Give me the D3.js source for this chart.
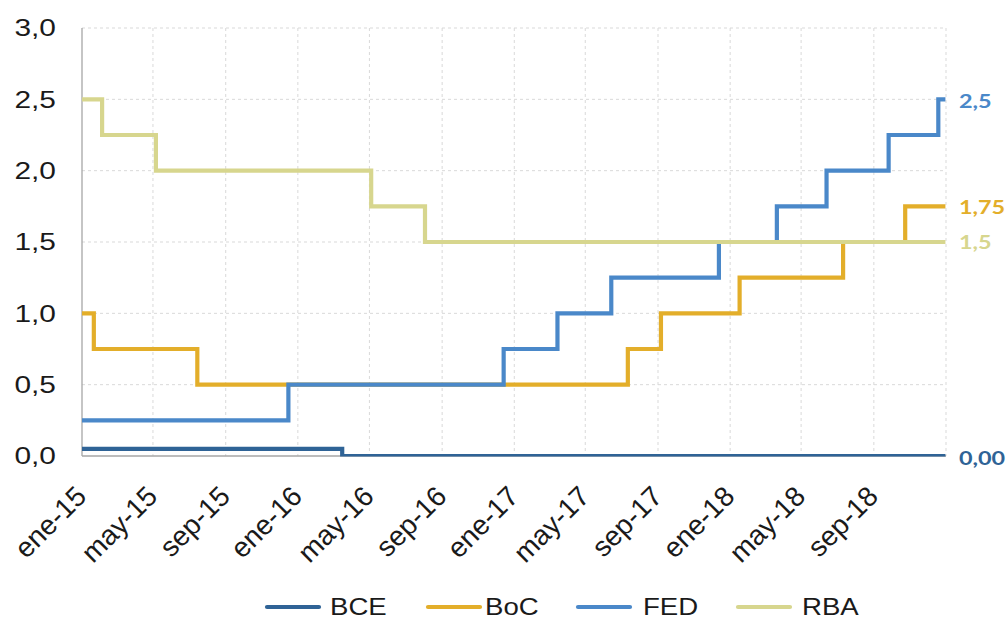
<!DOCTYPE html>
<html>
<head>
<meta charset="utf-8">
<script src="https://cdn.jsdelivr.net/npm/d3@7"></script>
<style>
  html, body { margin: 0; padding: 0; background: #fff; }
  svg { display: block; }
</style>
</head>
<body>
<svg id="chart" width="1007" height="618"></svg>
<script>
// Policy rates (%) as step series: each value holds from its date until the next one.
const seriesNames = ["BCE", "BoC", "FED", "RBA"];

const bceDates = ["2015-01-01", "2016-03-16"];
const bceRates = [0.05, 0.00];

const bocDates = ["2015-01-01", "2015-01-21", "2015-07-15", "2017-07-12", "2017-09-06",
                  "2018-01-17", "2018-07-11", "2018-10-24"];
const bocRates = [1.00, 0.75, 0.50, 0.75, 1.00, 1.25, 1.50, 1.75];

const fedDates = ["2015-01-01", "2015-12-16", "2016-12-14", "2017-03-15", "2017-06-14",
                  "2017-12-13", "2018-03-21", "2018-06-13", "2018-09-26", "2018-12-19"];
const fedRates = [0.25, 0.50, 0.75, 1.00, 1.25, 1.50, 1.75, 2.00, 2.25, 2.50];

const rbaDates = ["2015-01-01", "2015-02-04", "2015-05-06", "2016-05-04", "2016-08-03"];
const rbaRates = [2.50, 2.25, 2.00, 1.75, 1.50];

const lastDate = "2018-12-31";

// End-of-period labels shown at the right edge
const endLabels = ["0,00", "1,75", "2,5", "1,5"];

// Axis ticks
const xTickDates = ["2015-01-01", "2015-05-01", "2015-09-01", "2016-01-01", "2016-05-01",
                    "2016-09-01", "2017-01-01", "2017-05-01", "2017-09-01", "2018-01-01",
                    "2018-05-01", "2018-09-01"];
const xTickLabels = ["ene-15", "may-15", "sep-15", "ene-16", "may-16", "sep-16",
                     "ene-17", "may-17", "sep-17", "ene-18", "may-18", "sep-18"];
const xGridEnd = "2019-01-01";
const yTicks = [0, 0.5, 1.0, 1.5, 2.0, 2.5, 3.0];
const yTickLabels = ["0,0", "0,5", "1,0", "1,5", "2,0", "2,5", "3,0"];

const colors = {BCE: "#2f6396", BoC: "#e3ae2a", FED: "#4a88c9", RBA: "#d7d68e"};

// Horizontal text is drawn slightly widened
const stretch = 1.3;

const parse = d3.timeParse("%Y-%m-%d");

function buildSeries(name, dates, rates) {
  const pts = dates.map((d, i) => ({date: parse(d), value: rates[i]}));
  pts.push({date: parse(lastDate), value: rates[rates.length - 1]});
  return {name, points: pts};
}

const series = [
  buildSeries("BCE", bceDates, bceRates),
  buildSeries("BoC", bocDates, bocRates),
  buildSeries("FED", fedDates, fedRates),
  buildSeries("RBA", rbaDates, rbaRates)
];

const svg = d3.select("#chart");

const x = d3.scaleTime()
  .domain([parse("2015-01-01"), parse(xGridEnd)])
  .range([82, 946]);
const y = d3.scaleLinear()
  .domain([0, 3])
  .range([456, 28]);

// Grid
const grid = svg.append("g");
grid.selectAll("line.h")
  .data(yTicks.filter(v => v > 0))
  .join("line")
  .attr("x1", x.range()[0]).attr("x2", x.range()[1])
  .attr("y1", d => y(d)).attr("y2", d => y(d))
  .attr("stroke", "#d9d9d9").attr("stroke-width", 1)
  .attr("stroke-dasharray", "3,3");

grid.selectAll("line.v")
  .data(xTickDates.slice(1).concat([xGridEnd]).map(parse))
  .join("line")
  .attr("x1", d => x(d)).attr("x2", d => x(d))
  .attr("y1", y(3)).attr("y2", y(0))
  .attr("stroke", "#d9d9d9").attr("stroke-width", 1)
  .attr("stroke-dasharray", "3,3");

// Axis lines
svg.append("line")
  .attr("x1", x.range()[0]).attr("x2", x.range()[0])
  .attr("y1", y(3)).attr("y2", y(0))
  .attr("stroke", "#a6a6a6").attr("stroke-width", 1.3);
svg.append("line")
  .attr("x1", x.range()[0]).attr("x2", x.range()[1])
  .attr("y1", y(0)).attr("y2", y(0))
  .attr("stroke", "#a6a6a6").attr("stroke-width", 1.3);

// Y tick labels
svg.append("g").selectAll("text")
  .data(yTicks)
  .join("text")
  .attr("transform", d => `translate(56,${y(d)}) scale(${stretch},1)`)
  .attr("dy", "0.36em")
  .attr("text-anchor", "end")
  .attr("font-family", "Liberation Sans, Arial, sans-serif")
  .attr("font-size", 23)
  .attr("fill", "#1a1a1a")
  .text((d, i) => yTickLabels[i]);

// X tick labels, rotated 45 degrees
svg.append("g").selectAll("text")
  .data(xTickDates.map(parse))
  .join("text")
  .attr("transform", d => `translate(${x(d) + 6},${498}) rotate(-45)`)
  .attr("text-anchor", "end")
  .attr("font-family", "Liberation Sans, Arial, sans-serif")
  .attr("font-size", 28)
  .attr("fill", "#1a1a1a")
  .text((d, i) => xTickLabels[i]);

// Clip so the zero-level line sits on the axis like the plot border
svg.append("clipPath").attr("id", "plotClip")
  .append("rect")
  .attr("x", x.range()[0] - 2).attr("y", y(3) - 4)
  .attr("width", x.range()[1] - x.range()[0] + 4)
  .attr("height", y(0) - y(3) + 4.5);

const line = d3.line()
  .x(d => x(d.date))
  .y(d => y(d.value))
  .curve(d3.curveStepAfter);

svg.append("g").attr("clip-path", "url(#plotClip)")
  .selectAll("path")
  .data(series)
  .join("path")
  .attr("d", d => line(d.points))
  .attr("fill", "none")
  .attr("stroke", d => colors[d.name])
  .attr("stroke-width", 4.2)
  .attr("stroke-linejoin", "miter");

// End labels
const labelOffsets = {BCE: 3, BoC: 1, FED: 2, RBA: 1};
svg.append("g").selectAll("text")
  .data(series)
  .join("text")
  .attr("transform", d =>
    `translate(959,${y(d.points[d.points.length - 1].value) + labelOffsets[d.name]}) scale(${stretch},1)`)
  .attr("dy", "0.36em")
  .attr("font-family", "Lato, Open Sans, sans-serif")
  .attr("font-weight", 700)
  .attr("font-size", 18)
  .attr("fill", d => colors[d.name])
  .text((d, i) => endLabels[i]);

// Legend
const legendX = [267, 428, 578, 738];
const legendTextX = [63, 57, 65, 64];
const legend = svg.append("g");
const items = legend.selectAll("g")
  .data(seriesNames)
  .join("g")
  .attr("transform", (d, i) => `translate(${legendX[i]},607)`);
items.append("line")
  .attr("x1", 0).attr("x2", 52)
  .attr("y1", 0).attr("y2", 0)
  .attr("stroke", d => colors[d])
  .attr("stroke-width", 4.2)
  .attr("stroke-linecap", "round");
items.append("text")
  .attr("transform", (d, i) => `translate(${legendTextX[i]},0) scale(1.2,1)`)
  .attr("dy", "0.33em")
  .attr("font-family", "Liberation Sans, Arial, sans-serif")
  .attr("font-size", 23)
  .attr("fill", "#1a1a1a")
  .text(d => d);
</script>
</body>
</html>
